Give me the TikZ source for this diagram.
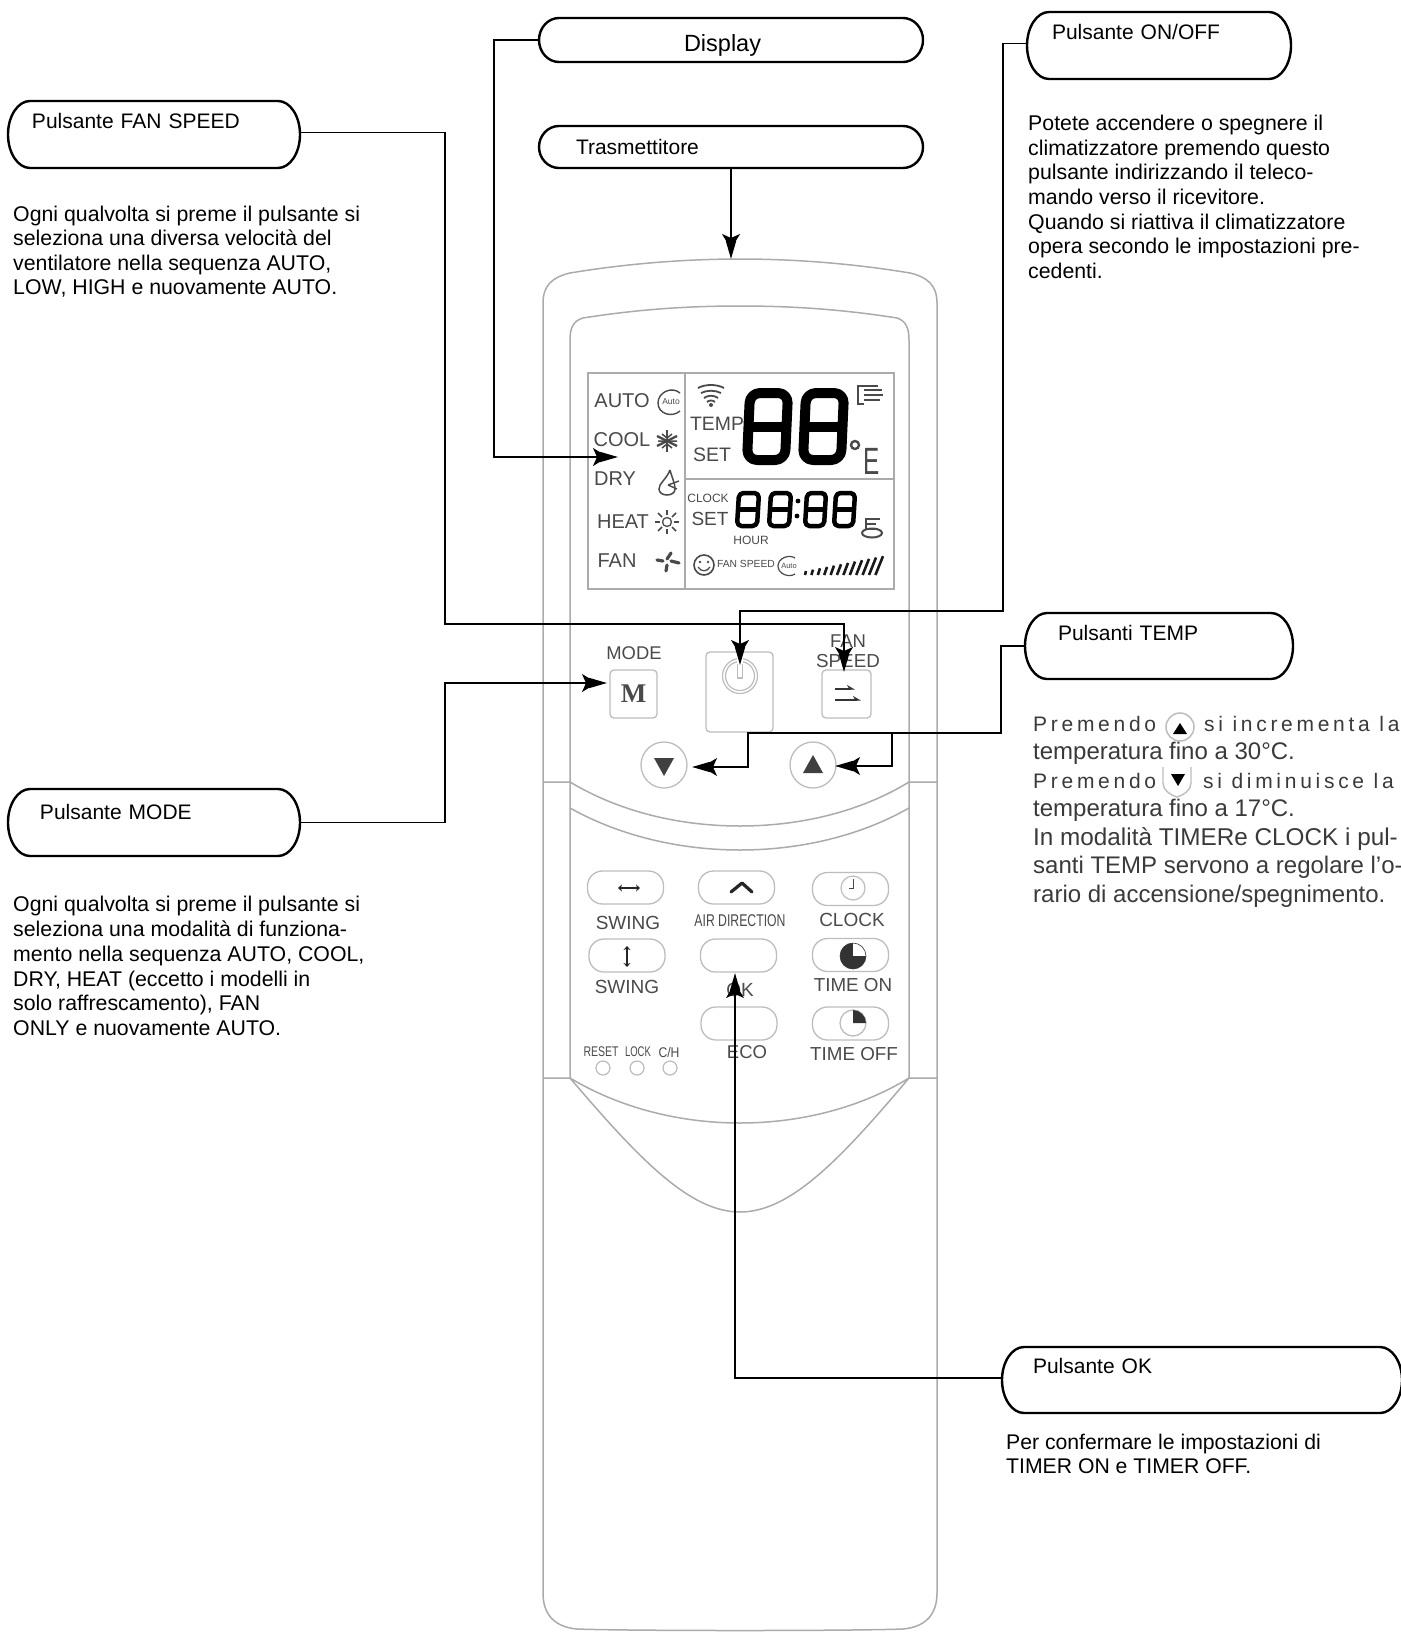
\documentclass[tikz,border=0pt]{standalone}
\usepackage{fontspec}
\setmainfont{Liberation Sans}
\newfontfamily\serifm{Liberation Serif}
\usetikzlibrary{arrows.meta,calc}
\definecolor{bodyline}{HTML}{ABABAB}
\definecolor{keyline}{HTML}{BDBDBD}
\definecolor{rtext}{HTML}{4A4A4A}
\definecolor{dtext}{HTML}{3A3A3A}
\newcommand{\fs}[2]{\fontsize{#1}{#2}\selectfont}
\newcommand{\ctext}[3]{\hspace*{#1pt}\smash{\raisebox{#2pt}{#3}}}
\newcommand{\sdigit}[6]{%x y w h slant lw
  \draw[black,line width=#6pt,rounded corners=#6pt,line join=round]
    ({#1+#5},#2)--({#1+#3+#5},#2)--({#1+#3},{#2+#4})--(#1,{#2+#4})--cycle;
  \draw[black,line width=#6pt] ({#1+#5/2},{#2+#4/2})--({#1+#3+#5/2},{#2+#4/2});
}
\newcommand{\pill}[2]{%
  \draw[pilline] ($(#1.north west)+(#2,0)$) -- ($(#1.north east)+(-#2,0)$)
    .. controls ($(#1.north east)+({-#2*.45},0)$) and ($(#1.north east)!.45!(#1.east)$) .. (#1.east)
    .. controls ($(#1.south east)!.45!(#1.east)$) and ($(#1.south east)+({-#2*.45},0)$) .. ($(#1.south east)+(-#2,0)$)
    -- ($(#1.south west)+(#2,0)$)
    .. controls ($(#1.south west)+({#2*.45},0)$) and ($(#1.south west)!.45!(#1.west)$) .. (#1.west)
    .. controls ($(#1.north west)!.45!(#1.west)$) and ($(#1.north west)+({#2*.45},0)$) .. ($(#1.north west)+(#2,0)$) -- cycle;}
\tikzset{
  callout/.style={inner sep=0pt,outer sep=0pt,align=left,font=\fs{21}{24}},
  pilline/.style={draw=black,line width=2.4pt,line join=round},
  desc/.style={anchor=north west,inner sep=0pt,align=left,text=black},
  conn/.style={draw=black,line width=1.5pt},
  tip/.style={conn,-{Stealth[length=15pt,width=18pt,inset=4pt,sep=-8pt]Stealth[length=18pt,width=10pt,inset=0pt]}},
  bodypath/.style={draw=bodyline,line width=1.5pt},
  keypill/.style={draw=keyline,line width=1.3pt,rounded corners=15pt,inner sep=0pt,minimum height=33pt,minimum width=76pt},
  keybox/.style={draw=keyline,line width=1.3pt,rounded corners=4pt,inner sep=0pt},
  keyround/.style={draw=keyline,line width=1.3pt,circle,inner sep=0pt,minimum size=46pt},
  rt/.style={text=rtext,inner sep=0pt,font=\fs{#1}{#1}},
  lcdl/.style={draw=rtext,line width=1pt},
  lcdframe/.style={draw=bodyline,line width=1.5pt},
  led/.style={draw=keyline,line width=1.2pt,circle,inner sep=0pt,minimum size=14pt},
}
\begin{document}
\begin{tikzpicture}[x=1pt,y=-1pt]
\useasboundingbox (0,0) rectangle (1400,1632);
\fill[white] (0,0) rectangle (1400,1632);

% remote body
\draw[bodypath] (543,303) .. controls (543,285) and (553,277) .. (570,273) .. controls (630,263) and (690,259) .. (740,259) .. controls (790,259) and (850,263) .. (910,273) .. controls (927,277) and (937,285) .. (937,303) -- (937,1593) .. controls (937,1615) and (925,1627) .. (903,1629) .. controls (850,1631) and (630,1631) .. (577,1629) .. controls (555,1627) and (543,1615) .. (543,1593) -- cycle;
\draw[bodypath] (570,1078) -- (570,340) .. controls (570,328) and (573,321) .. (583,318) .. controls (640,309) and (690,306) .. (740,306) .. controls (790,306) and (840,309) .. (897,318) .. controls (906,321) and (909,328) .. (909,340) -- (909,1078);
\draw[bodypath] (543,782) -- (570,782) .. controls (620,812) and (680,826) .. (740,826) .. controls (800,826) and (860,812) .. (909,782) -- (937,782);
\draw[bodypath] (570,808) .. controls (620,836) and (680,850) .. (740,850) .. controls (800,850) and (860,836) .. (909,808);
\draw[bodypath] (543,1078) -- (570,1078) .. controls (620,1108) and (680,1123) .. (740,1123) .. controls (800,1123) and (860,1108) .. (909,1078) -- (937,1078);
\draw[bodypath] (570,1078) .. controls (640,1160) and (690,1212) .. (740,1212) .. controls (790,1212) and (840,1160) .. (909,1078);

% LCD
\draw[lcdframe] (588,373) rectangle (894,589);
\draw[lcdframe] (685,373) -- (685,589);
\draw[lcdframe] (685,479) -- (894,479);
\node[rt=20] (lAuto) at (622,401) {AUTO};
\node[rt=20] (lCool) at (622,440) {COOL};
\node[rt=20] (lDry) at (615,479) {DRY};
\node[rt=20] (lHeat) at (623,522) {HEAT};
\node[rt=20] (lFan) at (617,561) {FAN};
\node[rt=19.4] (lTemp) at (717,424) {TEMP};
\node[rt=19.5] (lSet) at (712,455) {SET};
\node[rt=12] (lClock) at (708,498) {CLOCK};
\node[rt=19] (lSetb) at (710,519) {SET};
\node[rt=12] (lHour) at (751,540) {HOUR};
\node[rt=10.3] (lFs) at (746,564) {FAN SPEED};
% big digits
\sdigit{747}{393}{38}{67}{3}{10}
\sdigit{803}{393}{38}{67}{3}{10}
\draw[rtext,line width=2.4pt] (855,445) circle (4);
\node[rt=38,xscale=.64] (lE) at (872,461) {E};
% small digits
\sdigit{737}{493}{20}{33}{2}{4.5}
\sdigit{769}{493}{20}{33}{2}{4.5}
\sdigit{805}{493}{19}{33}{2}{4.5}
\sdigit{834}{493}{19}{33}{2}{4.5}
\fill[black] (798,501) circle (2.4) (797,516) circle (2.4);
% lcd icons
\draw[lcdl,line width=1.4pt] (680,393) .. controls (672,386) and (658,392) .. (658,403) .. controls (658,414) and (672,418) .. (680,411);
\node[rt=8.5] (lAutoI) at (671,402) {Auto};
% snowflake
\foreach \a/\b/\c/\d in {667/430/667/452,657/436/677/446,657/446/677/436}
  \draw[lcdl,line width=2.4pt] (\a,\b)--(\c,\d);
\draw[lcdl,line width=1.5pt] (662,434)--(667,438)--(672,434) (662,448)--(667,444)--(672,448) (658,441)--(677,441);
% drop
\draw[lcdl,line width=1.5pt] (670,470) .. controls (666,480) and (659,483) .. (659,489) .. controls (659,497) and (675,497) .. (675,489) .. controls (675,483) and (672,478) .. (670,470);
\draw[lcdl,line width=1.4pt] (668,485)--(679,481) (668,485)--(677,489);
% sun
\draw[lcdl,line width=1.3pt] (667,522) circle (4.5);
\foreach \a/\b/\c/\d in {667/510/667/515,667/529/667/534,655/522/660/522,674/522/679/522,658/513/662/517,672/527/676/531,658/531/662/527,672/517/676/513}
  \draw[lcdl,line width=1.5pt] (\a,\b)--(\c,\d);
% fan
\draw[rtext,line width=3.2pt,line cap=round] (657,560)--(663,561) (671,553)--(667,559) (679,563)--(671,561) (666,571)--(667,565);
% wifi
\draw[lcdl,line width=1.8pt] (698,388) .. controls (705,384) and (717,384) .. (724,388)
   (701,393) .. controls (707,390) and (715,390) .. (721,393)
   (704,398) .. controls (708,395) and (714,395) .. (718,398)
   (707,402) .. controls (709,400) and (713,400) .. (715,402);
\fill[rtext] (711,405) circle (2);
% air icon
\draw[lcdl,line width=1.4pt] (878,386)--(858,386)--(858,404)--(864,404);
\draw[lcdl,line width=1.4pt] (864,390)--(882,390) (864,395)--(883,395) (864,400)--(880,400);
% ionizer icon
\draw[rtext,line width=1.6pt] (880,519)--(866,519)--(866,529)--(878,529) (866,524)--(876,524);
\draw[rtext,line width=2pt] (872,533) ellipse (10 and 4.5);
% smile
\draw[rtext,line width=1.6pt] (704,565) circle (10);
\fill[rtext] (700,562) circle (1.4) (708,562) circle (1.4);
\draw[rtext,line width=1.3pt] (698,567) .. controls (701,572) and (707,572) .. (710,567);
% auto 2
\draw[lcdl,line width=1.2pt] (795,558) .. controls (789,554) and (778,558) .. (778,566) .. controls (778,574) and (789,578) .. (795,574);
\node[rt=7.5] (lAutoJ) at (789,566) {Auto};
% bars
\foreach \i in {0,...,11}
  \draw[black!90,line width=2.6pt] ({805+\i*6.4},575) -- ({805+\i*6.4+1+\i*.6},{573-2-\i*1.35});

% keys
\node[rt=18.4] (tMode) at (634,653) {MODE};
\node[keybox,minimum width=47pt,minimum height=48pt] (bM) at (633.5,694) {\serifm\bfseries\fs{27}{27}\raisebox{-2pt}{\textcolor{rtext}{M}}};
\node[keybox,minimum width=67pt,minimum height=80pt] (bPower) at (739.5,692) {};
\draw[keyline,line width=1.2pt] (740,676) circle (14.5);
\draw[keyline,line width=1.2pt] (740,676) circle (17.5);
\fill[white] (737,657) rectangle (743,676);
\draw[keyline,line width=1.2pt] (737.5,664)--(737.5,678)--(742.5,678)--(742.5,664);
\node[rt=18.5] (tFan) at (848,641) {FAN};
\node[rt=18.8] (tSpeed) at (848,661) {SPEED};
\node[keybox,minimum width=49pt,minimum height=48pt] (bFan) at (846.5,694) {};
\draw[black!80,line width=2pt,-{Stealth[harpoon,length=7pt,width=8pt]}] (835,689)--(855,689);
\draw[black!80,line width=2pt,-{Stealth[harpoon,length=7pt,width=8pt]}] (835,700)--(861,700);
\node[keyround] (bDown) at (664,765) {};
\fill[black!75] (654,758)--(674,758)--(664,776)--cycle;
\node[keyround] (bUp) at (813,765) {};
\fill[black!75] (803,773)--(823,773)--(813,755)--cycle;

\node[keypill] (p11) at (625.5,887.5) {};
\draw[black!85,line width=2.4pt,{Stealth[length=4pt,width=7pt]}-{Stealth[length=4pt,width=7pt]}] (618,888)--(640,888);
\node[keypill] (p12) at (736.5,887.5) {};
\draw[black!85,line width=3.2pt,line join=round,line cap=round] (731,892)--(742,883)--(752,892);
\node[keypill] (p13) at (850.5,889) {};
\draw[keyline,line width=1.2pt] (853,888) circle (12);
\draw[rtext,line width=.7pt] (853,879)--(853,888)--(849,888);
\node[rt=19] (sw1) at (628,923) {SWING};
\node[rt=17] (air) at (740,921) {\scalebox{.72}[1]{AIR DIRECTION}};
\node[rt=19] (clk) at (852,920) {CLOCK};
\node[keypill] (p21) at (627,955.5) {};
\draw[black!85,line width=2.4pt,{Stealth[length=4pt,width=7pt]}-{Stealth[length=4pt,width=7pt]}] (627,946)--(627,967);
\node[keypill] (p22) at (738.5,955.5) {};
\node[keypill] (p23) at (850.5,955) {};
\fill[black!80] (853,956) circle (13);
\fill[white] (853,956) rectangle (866,943);
\draw[black!80,line width=.6pt] (853,956) circle (13);
\node[rt=19] (sw2) at (627,987) {SWING};
\node[rt=19] (ok) at (740,990) {OK};
\node[rt=18.8] (ton) at (853,985) {TIME ON};
\node[keypill] (p32) at (739,1023.5) {};
\node[keypill] (p33) at (850.5,1023.5) {};
\draw[keyline,line width=1.3pt] (853,1023) circle (13);
\fill[black!80] (853,1010) .. controls (860,1010) and (866,1016) .. (866,1023) -- (853,1023) -- cycle;
\node[rt=18.5] (eco) at (747,1052) {ECO};
\node[rt=18.8] (toff) at (854,1054) {TIME OFF};
\node[rt=14] (rst) at (601,1052) {\scalebox{.75}[1]{RESET}};
\node[rt=14] (lck) at (638,1052) {\scalebox{.68}[1]{LOCK}};
\node[rt=14] (ch) at (669,1052) {\scalebox{.87}[1]{C/H}};
\node[led] (l1) at (603,1068) {};
\node[led] (l2) at (637,1068) {};
\node[led] (l3) at (670,1068) {};

% callouts
\node[callout,minimum height=44pt,text width=384pt] (cDisplay) at (731,40) {\ctext{145}{-12}{\fs{23.5}{24}Display}};
\node[callout,minimum height=42pt,text width=384pt] (cTx) at (731,147) {\ctext{37}{-7.5}{Trasmettitore}};
\node[callout,minimum height=67pt,text width=264pt] (cOn) at (1159,45.5) {\ctext{25}{5.5}{Pulsante ON/OFF}};
\node[callout,minimum height=67pt,text width=292pt] (cFan) at (154,134.5) {\ctext{24}{5.5}{Pulsante FAN SPEED}};
\node[callout,minimum height=66pt,text width=268pt] (cTemp) at (1159,646) {\ctext{33}{5.5}{Pulsanti TEMP}};
\node[callout,minimum height=67pt,text width=292pt] (cMode) at (154,822.5) {\ctext{32}{3.5}{Pulsante MODE}};
\node[callout,minimum height=66pt,text width=400pt] (cOk) at (1202,1380) {\ctext{31}{6.5}{Pulsante OK}};
\pill{cDisplay}{20}
\pill{cTx}{20}
\pill{cOn}{22}
\pill{cFan}{22}
\pill{cTemp}{22}
\pill{cMode}{22}
\pill{cOk}{22}

% descriptions
\node[desc,font=\fs{21.3}{24.6}] (dFan) at (13,205.5) {Ogni qualvolta si preme il pulsante si\\seleziona una diversa velocità del\\ventilatore nella sequenza AUTO,\\LOW, HIGH e nuovamente AUTO.};
\node[desc,font=\fs{21.3}{24.8}] (dMode) at (13,896) {Ogni qualvolta si preme il pulsante si\\seleziona una modalità di funziona-\\mento nella sequenza AUTO, COOL,\\DRY, HEAT (eccetto i modelli in\\solo raffrescamento), FAN\\ONLY e nuovamente AUTO.};
\node[desc,font=\fs{21.3}{24.6}] (dOn) at (1028,115) {Potete accendere o spegnere il\\climatizzatore premendo questo\\pulsante indirizzando il teleco-\\mando verso il ricevitore.\\Quando si riattiva il climatizzatore\\opera secondo le impostazioni pre-\\cedenti.};
\node[desc,font=\fs{21.2}{24}] (dOk) at (1006,1434) {Per confermare le impostazioni di\\TIMER ON e TIMER OFF.};
\node[desc,font=\fs{24}{28.5},text=dtext] (dTemp) at (1033,716) {{\fs{21}{28.5}\addfontfeature{LetterSpace=17.7}Premendo\hspace*{48pt}si incrementa la}\\temperatura fino a 30°C.\\{\fs{21}{28.5}\addfontfeature{LetterSpace=17.7}Premendo\hspace*{47pt}si diminuisce la}\\temperatura fino a 17°C.\\{\fs{24.3}{28.5}In modalità TIMERe CLOCK i pul-}\\santi TEMP servono a regolare l'o-\\rario di accensione/spegnimento.};
% inline icons
\node[draw=keyline,line width=1.5pt,circle,inner sep=0pt,minimum size=28pt] (iUp) at (1180,727) {};
\fill[black] (1173,734)--(1187,734)--(1180,723)--cycle;
\node[inner sep=0pt,minimum size=20pt] (iDown) at (1177,780) {};
\draw[keyline,line width=1.4pt] (1163,767)--(1163,783) .. controls (1163,790) and (1170,795) .. (1177,797) .. controls (1184,795) and (1191,790) .. (1191,783) -- (1191,767);
\fill[black] (1171,774)--(1185,774)--(1178,786)--cycle;

% connector coordinates
\coordinate (dispBend) at (494,457);
\coordinate (dispTip) at (618,457);
\coordinate (txTip) at (731,259);
\coordinate (onBend) at (1003,611);
\coordinate (onTip) at (740,665);
\coordinate (fanBend) at (445,624);
\coordinate (fanTip) at (844,672);
\coordinate (modeBend) at (445,683);
\coordinate (modeTip) at (607,683);
\coordinate (tempBend) at (1001,733);
\coordinate (tempJoin) at (748,733);
\coordinate (upJoin) at (892,733);
\coordinate (downTip) at (692,767);
\coordinate (upTip) at (835,766);
\coordinate (okTip) at (735,973);

% connectors
\draw[tip] (cDisplay.west) -| (dispBend) -- (dispTip);
\draw[tip] (cTx.south) -- (txTip);
\draw[tip] ([yshift=2pt]cOn.west) -| (onBend) -| (onTip);
\draw[tip] ([yshift=2pt]cFan.east) -| (fanBend) -| (fanTip);
\draw[tip] (cMode.east) -| (modeBend) -- (modeTip);
\draw[tip] (cTemp.west) -| (tempBend) -- (tempJoin) |- (downTip);
\draw[tip] (upJoin) |- (upTip);
\draw[tip] ([yshift=2pt]cOk.west) -| (okTip);
\end{tikzpicture}
\end{document}
